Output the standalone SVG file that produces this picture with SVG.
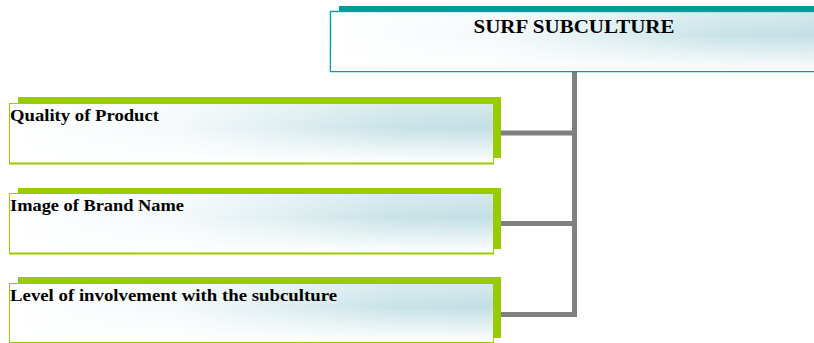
<svg xmlns="http://www.w3.org/2000/svg" width="814" height="343" viewBox="0 0 814 343">
<defs>
<linearGradient id="gh" x1="0" y1="0" x2="1" y2="0">
<stop offset="0" stop-color="#ffffff"/>
<stop offset="0.35" stop-color="#f4f9fa"/>
<stop offset="0.8" stop-color="#c8e3e7"/>
<stop offset="1" stop-color="#c2dfe4"/>
</linearGradient>
<linearGradient id="gv" x1="0" y1="0" x2="0" y2="1">
<stop offset="0" stop-color="#ffffff" stop-opacity="0.3"/>
<stop offset="0.4" stop-color="#ffffff" stop-opacity="0"/>
<stop offset="1" stop-color="#ffffff" stop-opacity="1"/>
</linearGradient>
<style>
.lbl{font-family:"Liberation Serif","Times New Roman",serif;font-weight:bold;fill:#000}
.gbox{stroke:#99cc00;stroke-width:1}
.gsh{fill:#99cc00}
.conn{stroke:#808080;stroke-width:5;fill:none}
</style>
</defs>
<g id="connectors">
<path class="conn" d="M574.5 72 V314.5 M501 133 H577 M501 223.5 H577 M501 314.5 H577"/>
</g>
<g id="root">
<rect x="339" y="6" width="476" height="6" fill="#009999"/>
<rect x="330.5" y="11.5" width="490" height="60" fill="url(#gh)" stroke="#00a0a0" stroke-width="1.5"/>
<rect x="331" y="12" width="490" height="59" fill="url(#gv)"/>
<text class="lbl" x="574" y="33" font-size="19" text-anchor="middle" textLength="201" lengthAdjust="spacingAndGlyphs">SURF SUBCULTURE</text>
</g>
<g id="n1">
<rect class="gsh" x="18" y="97" width="483" height="61"/>
<rect x="9.5" y="103.5" width="484" height="60" fill="url(#gh)" class="gbox"/>
<rect x="10" y="104" width="483" height="59" fill="url(#gv)"/>
<line x1="9" y1="163.5" x2="494" y2="163.5" stroke="#99cc00" stroke-width="2"/>
<text class="lbl" x="10" y="121" font-size="17" textLength="149" lengthAdjust="spacingAndGlyphs">Quality of Product</text>
</g>
<g id="n2">
<rect class="gsh" x="18" y="188" width="483" height="61"/>
<rect x="9.5" y="193.5" width="484" height="60" fill="url(#gh)" class="gbox"/>
<rect x="10" y="194" width="483" height="59" fill="url(#gv)"/>
<line x1="9" y1="253.5" x2="494" y2="253.5" stroke="#99cc00" stroke-width="2"/>
<text class="lbl" x="10" y="211" font-size="17" textLength="174" lengthAdjust="spacingAndGlyphs">Image of Brand Name</text>
</g>
<g id="n3">
<rect class="gsh" x="18" y="277" width="483" height="61"/>
<rect x="9.5" y="283.5" width="484" height="59" fill="url(#gh)" class="gbox"/>
<rect x="10" y="284" width="483" height="58" fill="url(#gv)"/>
<text class="lbl" x="10" y="301" font-size="17" textLength="327" lengthAdjust="spacingAndGlyphs">Level of involvement with the subculture</text>
</g>
</svg>
